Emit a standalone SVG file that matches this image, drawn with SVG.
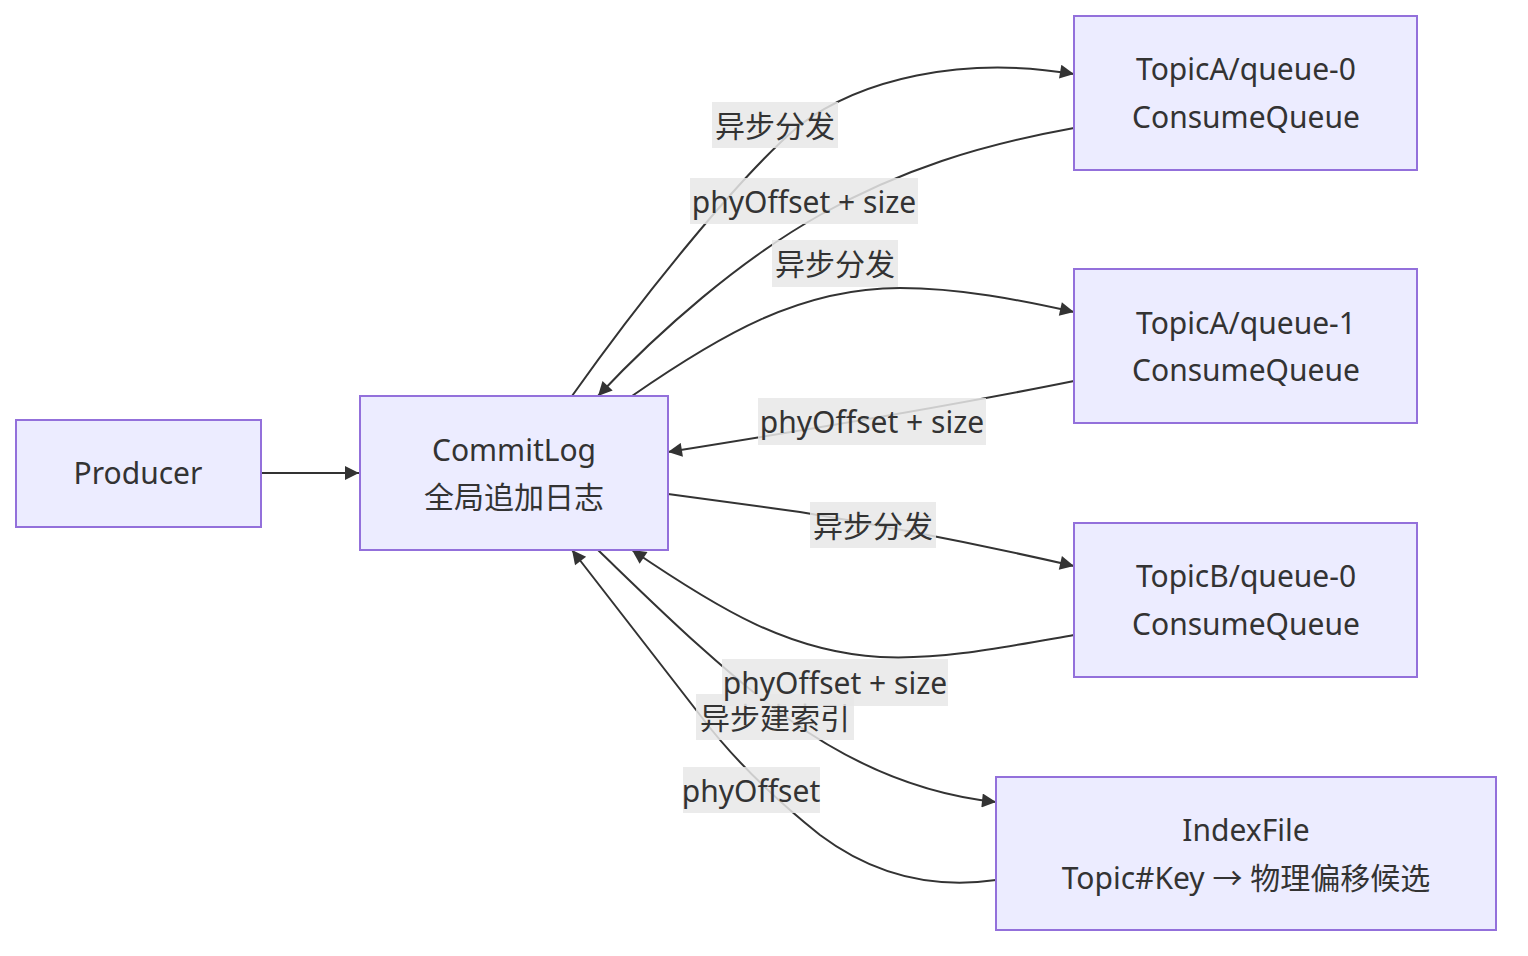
<svg xmlns="http://www.w3.org/2000/svg" width="1528" height="956" viewBox="0 0 1528 956">
<style>
.node rect{fill:#ECECFF;stroke:#9370DB;stroke-width:2}
.node text,.lbl text{font-family:"Noto Sans","Noto Sans CJK SC",sans-serif;font-size:30px;fill:#333;text-anchor:middle;dominant-baseline:central}
.edge{fill:none;stroke:#333;stroke-width:2}
.lbl rect{fill:#E8E8E8;fill-opacity:0.85}
</style>
<defs>
<marker id="ah" viewBox="0 0 10 10" refX="10" refY="5" markerWidth="18" markerHeight="14" markerUnits="userSpaceOnUse" orient="auto">
<path d="M0,0 L10,5 L0,10 z" fill="#333"/>
</marker>
</defs>
<rect width="1528" height="956" fill="#fff"/>
<g id="connectors">
<path class="edge" d="M261,473 L359,473" marker-end="url(#ah)"/>
<path class="edge" d="M572,396 C640,300 740,175 800,125 C860,80 960,55 1074,74" marker-end="url(#ah)"/>
<path class="edge" d="M1074,128 C980,145 900,170 820,215 C740,260 660,330 598,396" marker-end="url(#ah)"/>
<path class="edge" d="M632,396 C720,335 800,288 900,288 C960,288 1020,300 1074,312" marker-end="url(#ah)"/>
<path class="edge" d="M1074,381 C1000,396 900,415 668,452" marker-end="url(#ah)"/>
<path class="edge" d="M668,494 L800,512 C880,525 960,540 1074,566" marker-end="url(#ah)"/>
<path class="edge" d="M1074,635 C1000,648 940,660 880,657 C790,652 720,610 632,550" marker-end="url(#ah)"/>
<path class="edge" d="M598,550 C650,600 720,670 790,720 C860,770 930,795 996,802" marker-end="url(#ah)"/>
<path class="edge" d="M996,880 C940,888 880,880 820,835 C770,795 730,755 700,715 L572,550" marker-end="url(#ah)"/>
</g>
<g id="labels">
<g class="lbl"><rect x="712" y="102" width="126" height="46"/><text x="775" y="125">异步分发</text></g>
<g class="lbl"><rect x="690" y="178" width="228" height="46"/><text x="804" y="201">phyOffset + size</text></g>
<g class="lbl"><rect x="772" y="240" width="126" height="47"/><text x="835" y="263">异步分发</text></g>
<g class="lbl"><rect x="758" y="398" width="228" height="47"/><text x="872" y="421">phyOffset + size</text></g>
<g class="lbl"><rect x="810" y="502" width="126" height="46"/><text x="873" y="525">异步分发</text></g>
<g class="lbl"><rect x="696" y="694" width="158" height="46"/><text x="775" y="717">异步建索引</text></g>
<g class="lbl"><rect x="722" y="659" width="226" height="47"/><text x="835" y="682">phyOffset + size</text></g>
<g class="lbl"><rect x="683" y="767" width="137" height="46"/><text x="751" y="790">phyOffset</text></g>
</g>
<g id="producer" class="node"><rect x="16" y="420" width="245" height="107"/><text x="138" y="472">Producer</text></g>
<g id="commitlog" class="node"><rect x="360" y="396" width="308" height="154"/><text x="514" y="449">CommitLog</text><text x="514" y="496">全局追加日志</text></g>
<g id="topica-q0" class="node"><rect x="1074" y="16" width="343" height="154"/><text x="1246" y="68">TopicA/queue-0</text><text x="1246" y="116">ConsumeQueue</text></g>
<g id="topica-q1" class="node"><rect x="1074" y="269" width="343" height="154"/><text x="1246" y="322">TopicA/queue-1</text><text x="1246" y="369">ConsumeQueue</text></g>
<g id="topicb-q0" class="node"><rect x="1074" y="523" width="343" height="154"/><text x="1246" y="575">TopicB/queue-0</text><text x="1246" y="623">ConsumeQueue</text></g>
<g id="indexfile" class="node"><rect x="996" y="777" width="500" height="153"/><text x="1246" y="829">IndexFile</text><text x="1246" y="877">Topic#Key → 物理偏移候选</text></g>
</svg>
